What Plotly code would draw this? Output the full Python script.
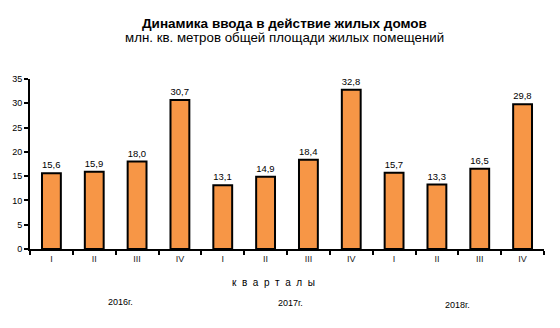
import plotly.graph_objects as go

# Quarterly housing commissioning, mln sq. m of total living area
quarters = ["I", "II", "III", "IV"] * 3
years = ["2016г.", "2017г.", "2018г."]
values = [15.6, 15.9, 18.0, 30.7, 13.1, 14.9, 18.4, 32.8, 15.7, 13.3, 16.5, 29.8]
y_ticks = [0, 5, 10, 15, 20, 25, 30, 35]

# unique category keys, relabelled with the roman quarter numbers
cats = [f"{years[i // 4]} {q}" for i, q in enumerate(quarters)]
labels = [f"{v:.1f}".replace(".", ",") for v in values]

FONT = "Liberation Sans, Arial, sans-serif"
W, H = 560, 328
L, R, T, B = 23, 16, 79, 79
PW, PH = W - L - R, H - T - B

fig = go.Figure(
    go.Bar(
        x=cats,
        y=values,
        text=labels,
        textposition="outside",
        textfont=dict(family=FONT, size=10, color="black"),
        cliponaxis=False,
        width=0.44,
        marker=dict(color="#F79646", line=dict(color="black", width=2)),
    )
)

fig.update_layout(
    width=W,
    height=H,
    margin=dict(l=L, r=R, t=T, b=B),
    paper_bgcolor="white",
    plot_bgcolor="white",
    showlegend=False,
    font=dict(family=FONT, color="black"),
    xaxis=dict(
        type="category",
        range=[-0.5, 11.5],
        tickvals=cats,
        ticktext=quarters,
        tickson="boundaries",
        ticks="outside",
        ticklen=4,
        tickwidth=2,
        tickcolor="black",
        showline=True,
        linecolor="black",
        linewidth=2,
        showgrid=False,
        tickfont=dict(size=9, color="#222222"),
    ),
    yaxis=dict(
        range=[0, 35],
        tickvals=y_ticks,
        ticks="outside",
        ticklen=4,
        tickwidth=2,
        tickcolor="black",
        showline=True,
        linecolor="black",
        linewidth=2,
        showgrid=False,
        zeroline=False,
        tickfont=dict(size=9),
    ),
)

# (text, centre x px, centre y px, font size)
texts = [
    ("<b>Динамика ввода в действие жилых домов</b>", 281, 23, 13.5),
    ("млн. кв. метров общей площади жилых помещений", 281, 37, 13.3),
    ("к  в  а  р  т  а  л  ы", 270, 282, 10),
    ("2016г.", 115, 302, 9),
    ("2017г.", 287, 303, 9),
    ("2018г.", 456, 305, 9),
]
for text, px, py, size in texts:
    fig.add_annotation(
        text=text,
        xref="paper",
        yref="paper",
        x=(px - L) / PW,
        y=(H - B - py) / PH,
        xanchor="center",
        yanchor="middle",
        showarrow=False,
        font=dict(size=size, family=FONT, color="black"),
    )

fig.write_html("out.html")
